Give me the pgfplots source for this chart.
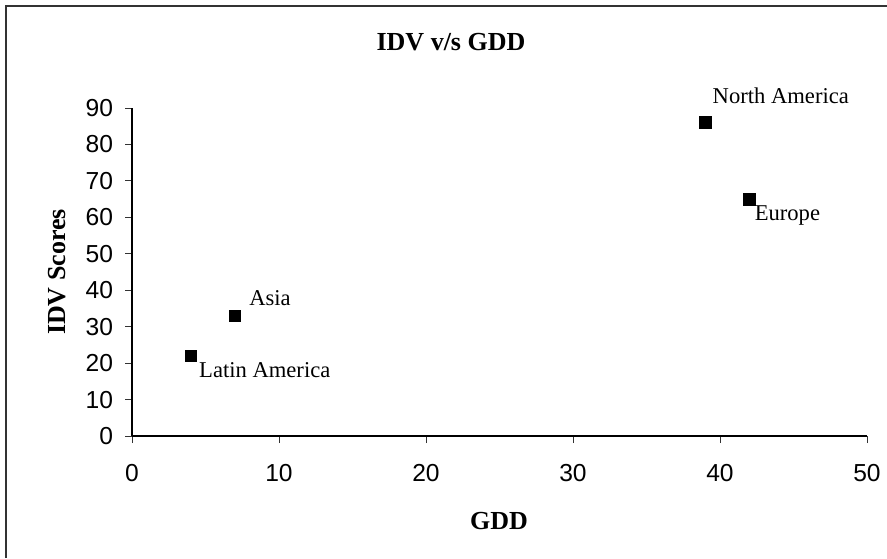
\documentclass[border=0pt]{standalone}
\usepackage{fontspec}
\setmainfont{Liberation Serif}
\newfontfamily\arial{Liberation Sans}
\usepackage{pgfplots}
\pgfplotsset{compat=1.18}
\begin{document}
\begin{tikzpicture}[x=1pt,y=1pt]
\path[use as bounding box] (0,0) rectangle (443.5,279);
\draw[line width=0.8pt, black!80] (3,0) -- (3,276) -- (443.5,276);
\begin{axis}[
    at={(66pt,61pt)}, anchor=south west,
    scale only axis,
    width=367.5pt, height=164pt,
    xmin=0, xmax=50, ymin=0, ymax=90,
    xtick={0,10,...,50}, ytick={0,10,...,90},
    axis x line=bottom, axis y line=left,
    axis line style={-, line width=0.6pt},
    tick align=outside,
    major tick length=3.5pt,
    tick style={black!80, line width=0.5pt},
    ticklabel style={font=\arial\fontsize{12.3}{14}\selectfont},
    xticklabel style={yshift=-7pt},
    yticklabel style={xshift=-2.5pt},
    /pgf/number format/assume math mode=true,
    clip=false,
]
\addplot[
    only marks, mark=square*, mark size=2.9pt, black,
    nodes near coords, point meta=explicit symbolic,
    visualization depends on={\thisrow{dx} \as \dx},
    visualization depends on={\thisrow{dy} \as \dy},
    every node near coord/.append style={anchor=base west, inner sep=0pt,
        xshift=\dx pt, yshift=\dy pt, font=\fontsize{11.3}{13}\selectfont},
] table[col sep=comma, row sep=\\, meta=label] {
    x,y,dx,dy,label\\
    39,86,3.5,9.5,North America\\
    42,65,2.5,-10.5,Europe\\
    7,33,7,5,Asia\\
    4,22,4,-11,Latin America\\
};
\end{axis}
\node[font=\bfseries\fontsize{13}{15}\selectfont] at (225.5,258) {IDV v/s GDD};
\node[font=\bfseries\fontsize{13}{15}\selectfont] at (249.5,18.5) {GDD};
\node[font=\bfseries\fontsize{13}{15}\selectfont, rotate=90] at (28.5,143) {IDV Scores};
\end{tikzpicture}
\end{document}
